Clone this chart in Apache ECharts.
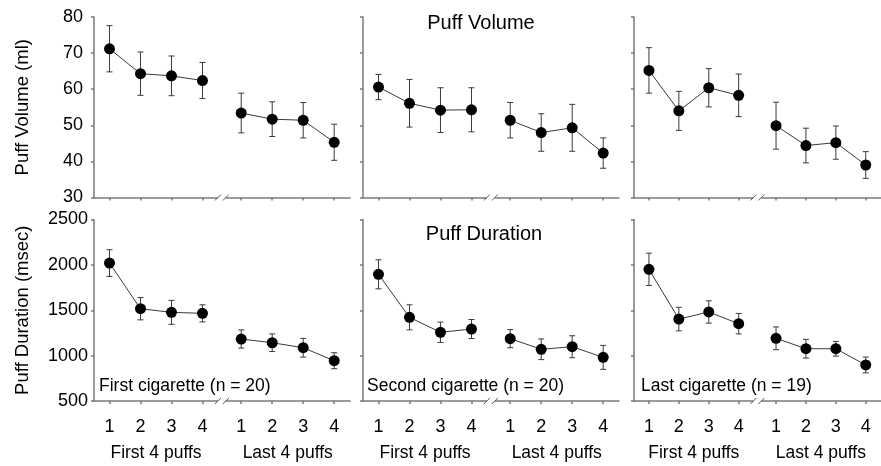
<!DOCTYPE html>
<html>
<head>
<meta charset="utf-8">
<script src="https://cdn.jsdelivr.net/npm/echarts@6/dist/echarts.min.js"></script>
<style>
  html, body { margin: 0; padding: 0; background: #fff; }
  #main { width: 881px; height: 466px; }
</style>
</head>
<body>
<div id="main"></div>
<script>
  // puff numbers on each side of the axis break
  var puffLabels = ['1', '2', '3', '4'];
  var groupNames = ['First 4 puffs', 'Last 4 puffs'];
  var cigarettes = ['First cigarette (n = 20)', 'Second cigarette (n = 20)', 'Last cigarette (n = 19)'];

  // puff volume (ml), mean and error, one row per cigarette
  var volumeFirst4 = [[71.2, 64.3, 63.7, 62.4], [60.6, 56.1, 54.2, 54.3], [65.2, 54.0, 60.4, 58.3]];
  var volumeFirst4Err = [[6.4, 6.0, 5.5, 5.0], [3.5, 6.6, 6.2, 6.1], [6.3, 5.4, 5.3, 5.9]];
  var volumeLast4 = [[53.4, 51.7, 51.4, 45.3], [51.4, 48.0, 49.3, 42.3], [49.9, 44.4, 45.2, 39.0]];
  var volumeLast4Err = [[5.5, 4.8, 4.9, 5.0], [4.9, 5.2, 6.5, 4.2], [6.5, 4.8, 4.6, 3.7]];

  // puff duration (msec)
  var durationFirst4 = [[2020, 1517, 1477, 1466], [1896, 1422, 1257, 1293], [1951, 1403, 1481, 1352]];
  var durationFirst4Err = [[147, 123, 132, 94], [160, 138, 112, 105], [178, 130, 123, 113]];
  var durationLast4 = [[1183, 1142, 1087, 944], [1187, 1070, 1098, 981], [1191, 1076, 1076, 897]];
  var durationLast4Err = [[100, 97, 103, 88], [100, 114, 121, 132], [125, 103, 81, 87]];

  var FONT = '"Liberation Sans", Arial, sans-serif';
  var AXIS = '#7a7a7a';
  var INK = '#3a3a3a';

  // x layout: first group at 1..4, second group after the break
  var SHIFT = 4.25;
  var BREAK_X = 4.625;
  var xPos = [];
  puffLabels.forEach(function (l, i) { xPos.push(i + 1); });
  puffLabels.forEach(function (l, i) { xPos.push(i + 1 + SHIFT); });
  var groupCenters = [2.5, 2.5 + SHIFT];

  var rows = [
    { name: 'Puff Volume (ml)', title: 'Puff Volume', min: 30, max: 80, interval: 10,
      first: volumeFirst4, firstErr: volumeFirst4Err, last: volumeLast4, lastErr: volumeLast4Err,
      top: 17, height: 180.5, labelMargin: 11 },
    { name: 'Puff Duration (msec)', title: 'Puff Duration', min: 500, max: 2500, interval: 500,
      first: durationFirst4, firstErr: durationFirst4Err, last: durationLast4, lastErr: durationLast4Err,
      top: 219.5, height: 181.5, labelMargin: 6 }
  ];
  var colLeft = [94, 363, 634];
  var colWidth = 256;

  var grid = [], xAxis = [], yAxis = [], series = [];

  function errorBars(params, api) {
    var x = api.value(0);
    var lo = api.coord([x, api.value(1)]);
    var hi = api.coord([x, api.value(2)]);
    var cap = 3;
    var st = { stroke: INK, lineWidth: 1 };
    return {
      type: 'group',
      children: [
        { type: 'line', shape: { x1: lo[0], y1: lo[1], x2: hi[0], y2: hi[1] }, style: st },
        { type: 'line', shape: { x1: hi[0] - cap, y1: hi[1], x2: hi[0] + cap, y2: hi[1] }, style: st },
        { type: 'line', shape: { x1: lo[0] - cap, y1: lo[1], x2: lo[0] + cap, y2: lo[1] }, style: st }
      ]
    };
  }

  rows.forEach(function (row, r) {
    colLeft.forEach(function (left, c) {
      var g = grid.length;
      grid.push({ left: left, top: row.top, width: colWidth, height: row.height });

      var xi = xAxis.length;
      xAxis.push({
        type: 'value', gridIndex: g, min: 0.5, max: 8.76,
        axisLine: { lineStyle: { color: AXIS, width: 1.5 } },
        axisTick: { show: true, length: 3, customValues: xPos, lineStyle: { color: AXIS, width: 1.5 } },
        axisLabel: {
          show: r === 1, customValues: xPos, margin: 17,
          color: '#000', fontFamily: FONT, fontSize: 18,
          formatter: function (v) {
            var i = xPos.indexOf(v);
            return i < 0 ? '' : puffLabels[i % puffLabels.length];
          }
        },
        splitLine: { show: false }
      });
      if (r === 1) {
        xAxis.push({
          type: 'value', gridIndex: g, min: 0.5, max: 8.76, position: 'bottom',
          axisLine: { show: false }, axisTick: { show: false }, splitLine: { show: false },
          axisLabel: {
            customValues: groupCenters, margin: 43,
            color: '#000', fontFamily: FONT, fontSize: 17.5,
            formatter: function (v) { return groupNames[groupCenters.indexOf(v)] || ''; }
          }
        });
      }

      yAxis.push({
        type: 'value', gridIndex: g, min: row.min, max: row.max, interval: row.interval,
        name: c === 0 ? row.name : '', nameLocation: 'middle', nameGap: 62,
        nameTextStyle: { color: '#000', fontFamily: FONT, fontSize: 18.5 },
        axisLine: { show: true, lineStyle: { color: AXIS, width: 1.5 } },
        axisTick: { show: true, length: 3, lineStyle: { color: AXIS, width: 1.5 } },
        axisLabel: {
          show: c === 0, margin: row.labelMargin, color: '#000', fontFamily: FONT, fontSize: 18,
          formatter: function (v) { return String(v); }
        },
        splitLine: { show: false }
      });

      var firstPts = [], lastPts = [], bars = [];
      row.first[c].forEach(function (v, i) {
        firstPts.push([xPos[i], v]);
        bars.push([xPos[i], v - row.firstErr[c][i], v + row.firstErr[c][i]]);
      });
      row.last[c].forEach(function (v, i) {
        lastPts.push([xPos[i + 4], v]);
        bars.push([xPos[i + 4], v - row.lastErr[c][i], v + row.lastErr[c][i]]);
      });

      series.push({
        type: 'custom', xAxisIndex: xi, yAxisIndex: g, renderItem: errorBars,
        encode: { x: 0, y: [1, 2] }, data: bars, z: 2, silent: true
      });
      [firstPts, lastPts].forEach(function (pts) {
        series.push({
          type: 'line', xAxisIndex: xi, yAxisIndex: g, data: pts,
          symbol: 'circle', symbolSize: 11, z: 3,
          lineStyle: { color: INK, width: 1 },
          itemStyle: { color: '#000' }
        });
      });
    });
  });

  var chart = echarts.init(document.getElementById('main'));
  chart.setOption({
    animation: false,
    grid: grid, xAxis: xAxis, yAxis: yAxis, series: series
  });

  // panel titles, cigarette notes and the // axis breaks
  var graphic = [
    { type: 'text', x: 481, y: 23, style: { text: rows[0].title, font: '20px ' + FONT, fill: '#000', align: 'center', verticalAlign: 'middle' } },
    { type: 'text', x: 484, y: 234, style: { text: rows[1].title, font: '20px ' + FONT, fill: '#000', align: 'center', verticalAlign: 'middle' } }
  ];
  var noteX = [99, 367, 641];
  cigarettes.forEach(function (t, c) {
    graphic.push({ type: 'text', x: noteX[c], y: 386, style: { text: t, font: '17.5px ' + FONT, fill: '#000', align: 'left', verticalAlign: 'middle' } });
  });
  grid.forEach(function (gr, g) {
    var row = rows[Math.floor(g / 3)];
    var p = chart.convertToPixel({ gridIndex: g }, [BREAK_X, row.min]);
    var cx = p[0], cy = p[1], d = 4;
    graphic.push({ type: 'rect', z: 100, shape: { x: cx - d, y: cy - 2, width: 2 * d, height: 4 }, style: { fill: '#fff' } });
    [-d, d].forEach(function (o) {
      graphic.push({ type: 'line', z: 101, shape: { x1: cx + o - 3, y1: cy + 3, x2: cx + o + 3, y2: cy - 3 }, style: { stroke: '#555', lineWidth: 1 } });
    });
  });
  chart.setOption({ graphic: graphic });
</script>
</body>
</html>
